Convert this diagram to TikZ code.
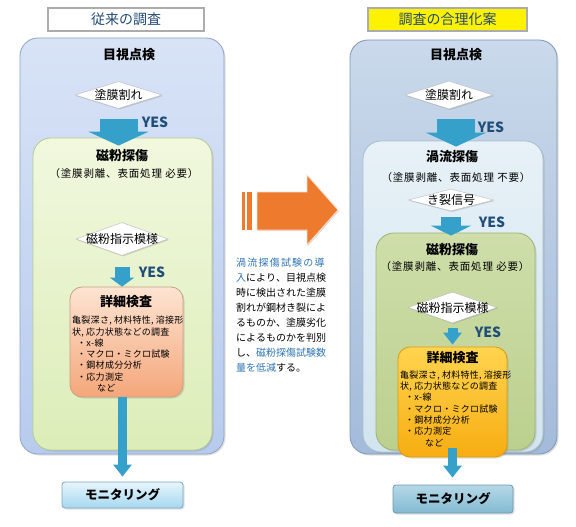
\documentclass[tikz,border=0pt]{standalone}
\usepackage{fontspec}
\setmainfont{Noto Sans CJK JP}[Kerning=Off]
\usetikzlibrary{shapes.geometric,arrows.meta,shadows}

\definecolor{titletext}{HTML}{244A74}
\definecolor{yestext}{HTML}{1F4E79}
\definecolor{notetext}{HTML}{2F75B5}
\definecolor{arrowteal}{HTML}{35A1CB}
\definecolor{midorange}{HTML}{EE7A2E}
% left panels
\definecolor{blueLd}{HTML}{8EA4C8}\definecolor{blueLt}{HTML}{D8E3F6}\definecolor{blueLb}{HTML}{B7CBEE}
\definecolor{greenLd}{HTML}{B5CC8E}\definecolor{greenLt}{HTML}{F1F8DE}\definecolor{greenLb}{HTML}{DCEDB8}
\definecolor{peachLd}{HTML}{C9A080}\definecolor{peachLt}{HTML}{FDE4D2}\definecolor{peachLb}{HTML}{F4A67A}
\definecolor{monLd}{HTML}{7FA7BF}\definecolor{monLt}{HTML}{E6F5FC}\definecolor{monLb}{HTML}{A6D8EF}
% right panels
\definecolor{blueRd}{HTML}{7F96B8}\definecolor{blueRt}{HTML}{CAD9EB}\definecolor{blueRb}{HTML}{A3BBDA}
\definecolor{lightRd}{HTML}{A8BFCE}\definecolor{lightRt}{HTML}{E7F1F7}\definecolor{lightRb}{HTML}{D2E4EE}
\definecolor{greenRd}{HTML}{9DB46E}\definecolor{greenRt}{HTML}{CFDEAA}\definecolor{greenRb}{HTML}{BBD08E}
\definecolor{goldRd}{HTML}{E09A10}\definecolor{goldRt}{HTML}{FFD44F}\definecolor{goldRb}{HTML}{F7AD12}
\definecolor{monRd}{HTML}{6F97AD}\definecolor{monRt}{HTML}{B5D8E7}\definecolor{monRb}{HTML}{83BAD2}

\tikzset{
  titlebox/.style={draw=gray!65, line width=1.2pt, minimum height=23pt, inner sep=0pt,
    font=\fontsize{14}{14}\selectfont, text=titletext},
  panel/.style={draw=#1d, top color=#1t, bottom color=#1b, rounded corners=18pt,
    inner sep=0pt, line width=0.8pt},
  boxsize/.style 2 args={minimum width=#1pt, minimum height=#2pt},
  softshadow/.style={drop shadow={opacity=0.25, shadow xshift=1.5pt, shadow yshift=-1.5pt}},
  head/.style={font=\bfseries\fontsize{13}{13}\selectfont, inner sep=0pt},
  note/.style={font=\fontsize{10.5}{10.5}\selectfont\addfontfeature{LetterSpace=8}, inner sep=0pt},
  dia/.style={diamond, draw=gray!55, fill=white, inner sep=0pt,
    drop shadow={opacity=0.3, shadow xshift=1pt, shadow yshift=-1pt},
    label={[font=\fontsize{12}{12}\selectfont]center:#1}},
  yes/.style={font=\bfseries\fontsize{14}{14}\selectfont, text=yestext, inner sep=0pt},
  detail/.style={font=\fontsize{9}{11.3}\selectfont\addfontfeature{LetterSpace=3}, align=left,
    anchor=north west, inner sep=0pt},
  monitor/.style={draw=#1d, top color=#1t, bottom color=#1b, rounded corners=3pt, line width=0.8pt,
    inner sep=0pt, font=\bfseries\fontsize{12.5}{12.5}\selectfont},
  bigarrow/.style={draw=arrowteal, line width=38pt, -{Triangle[length=14pt,width=60pt]}},
  midarrow/.style={draw=arrowteal, line width=20pt, -{Triangle[length=10pt,width=40pt]}},
  smallarrow/.style={draw=arrowteal, line width=15pt, -{Triangle[length=9pt,width=24pt]}},
  thinarrow/.style={draw=arrowteal, line width=9pt, -{Triangle[length=12pt,width=18pt]}},
}

\begin{document}
\begin{tikzpicture}[x=1pt,y=-1pt]
\useasboundingbox (0,0) rectangle (576,527);

% left column
\node[titlebox, minimum width=156pt] (titL) at (126,19.5) {従来の調査};
\node[panel=blueL, boxsize={204}{416}, softshadow] (pnlL) at (122,246) {};
\node[panel=greenL, boxsize={179}{312}, softshadow] (grnL) at (122.5,294) {};
\node[panel=peachL, boxsize={113}{110}, rounded corners=12pt, softshadow] (orgL) at (126.5,342) {};
\node[monitor=monL, boxsize={121}{26}, softshadow] (monL) at (122.5,495) {モニタリング};

\node[head] (visL) at (129,55) {目視点検};
\node[dia=塗膜割れ, boxsize={87}{27}] (dL1) at (118.5,95) {};
\node[head] (mpL) at (122,156) {磁粉探傷};
\node[note] (noteL) at (124,174) {（塗膜剥離、表面処理\ 必要）};
\node[dia=磁粉指示模様, boxsize={92}{33}] (dL2) at (122,239) {};
\node[head] (detL) at (126,302) {詳細検査};
\node[detail] (txtL) at (72,316) {亀裂深さ, 材料特性, 溶接形\\状, 応力状態などの調査\\\hspace{5pt}・x-線\\\hspace{5pt}・マクロ・ミクロ試験\\\hspace{5pt}・鋼材成分分析\\\hspace{5pt}・応力測定\\\hspace{25pt}など};

\draw[bigarrow] ([yshift=-10.5pt]dL1.south) -- ([yshift=-8pt]dL1.south |- grnL.north);
\draw[smallarrow] ([yshift=-11.5pt]dL2.south) -- (dL2.south |- orgL.north);
\draw[thinarrow] (orgL.south -| monL.north) -- ([yshift=5pt]monL.north);
\node[yes] (yL1) at (155,122) {YES};
\node[yes] (yL2) at (152,272) {YES};

% right column
\node[titlebox, fill=yellow, minimum width=159pt] (titR) at (447.5,19.5) {調査の合理化案};
\node[panel=blueR, boxsize={207}{414}, softshadow] (pnlR) at (453.5,247) {};
\node[panel=lightR, boxsize={180}{311}, softshadow] (lgtR) at (453,296.5) {};
\node[panel=greenR, boxsize={159}{217}, softshadow] (grnR) at (455.5,341.5) {};
\node[panel=goldR, boxsize={109}{110}, rounded corners=12pt, softshadow] (gldR) at (452.5,402) {};
\node[monitor=monR, boxsize={120}{28}, softshadow] (monR) at (453,499) {モニタリング};

\node[head] (visR) at (456,55) {目視点検};
\node[dia=塗膜割れ, boxsize={88}{28}] (dR1) at (449,95) {};
\node[head] (edR) at (452,157) {渦流探傷};
\node[note] (noteR1) at (456,178) {（塗膜剥離、表面処理\ 不要）};
\node[dia=き裂信号, boxsize={85}{22}] (dR2) at (451,200) {};
\node[head] (mpR) at (452,250) {磁粉探傷};
\node[note] (noteR2) at (455,267) {（塗膜剥離、表面処理\ 必要）};
\node[dia=磁粉指示模様, boxsize={89}{31}] (dR3) at (452.5,307.5) {};
\node[head] (detR) at (452.5,358) {詳細検査};
\node[detail] (txtR) at (400,370.5) {亀裂深さ, 材料特性, 溶接形\\状, 応力状態などの調査\\\hspace{5pt}・x-線\\\hspace{5pt}・マクロ・ミクロ試験\\\hspace{5pt}・鋼材成分分析\\\hspace{5pt}・応力測定\\\hspace{25pt}など};

\coordinate (aR1) at ([xshift=7pt,yshift=-10pt]dR1.south);
\draw[bigarrow] (aR1) -- ([yshift=-6pt]aR1 |- lgtR.north);
\draw[midarrow] ([yshift=-6pt]dR2.south) -- ([yshift=-3pt]dR2.south |- grnR.north);
\draw[thinarrow, line width=10pt] ([yshift=-5pt]dR3.south) -- ([yshift=2pt]dR3.south |- gldR.north);
\draw[thinarrow] ([yshift=9pt]gldR.south) -- ([yshift=7pt]gldR.south |- monR.north);
\node[yes] (yR1) at (491,127) {YES};
\node[yes] (yR2) at (492,222) {YES};
\node[yes] (yR3) at (488,332) {YES};

% middle arrow
\fill[midorange, drop shadow={opacity=0.3, shadow xshift=1pt, shadow yshift=-1pt}]
  (257,192) -- (307,192) -- (307,175) -- (338,210) -- (307,245) -- (307,230) -- (257,230) -- cycle;
\draw[white!75!midorange, line width=0.8pt]
  (257,192) -- (307,192) -- (307,175) -- (338,210) -- (307,245) -- (307,230) -- (257,230) -- cycle;
\fill[midorange] (242,192) rectangle (244.5,230);
\fill[midorange] (247,192) rectangle (251.5,230);

% middle text
\node[anchor=north west, inner sep=0pt, align=left, font=\fontsize{10}{15}\selectfont] (txtM) at (236,257.5)
  {\textcolor{notetext}{\addfontfeature{LetterSpace=12}渦流探傷試験の導}\\\textcolor{notetext}{入}により、目視点検\\時に検出された塗膜\\割れが鋼材き裂によ\\るものか、塗膜劣化\\によるものかを判別\\し、\textcolor{notetext}{磁粉探傷試験数}\\\textcolor{notetext}{量を低減}する。};
\end{tikzpicture}
\end{document}
